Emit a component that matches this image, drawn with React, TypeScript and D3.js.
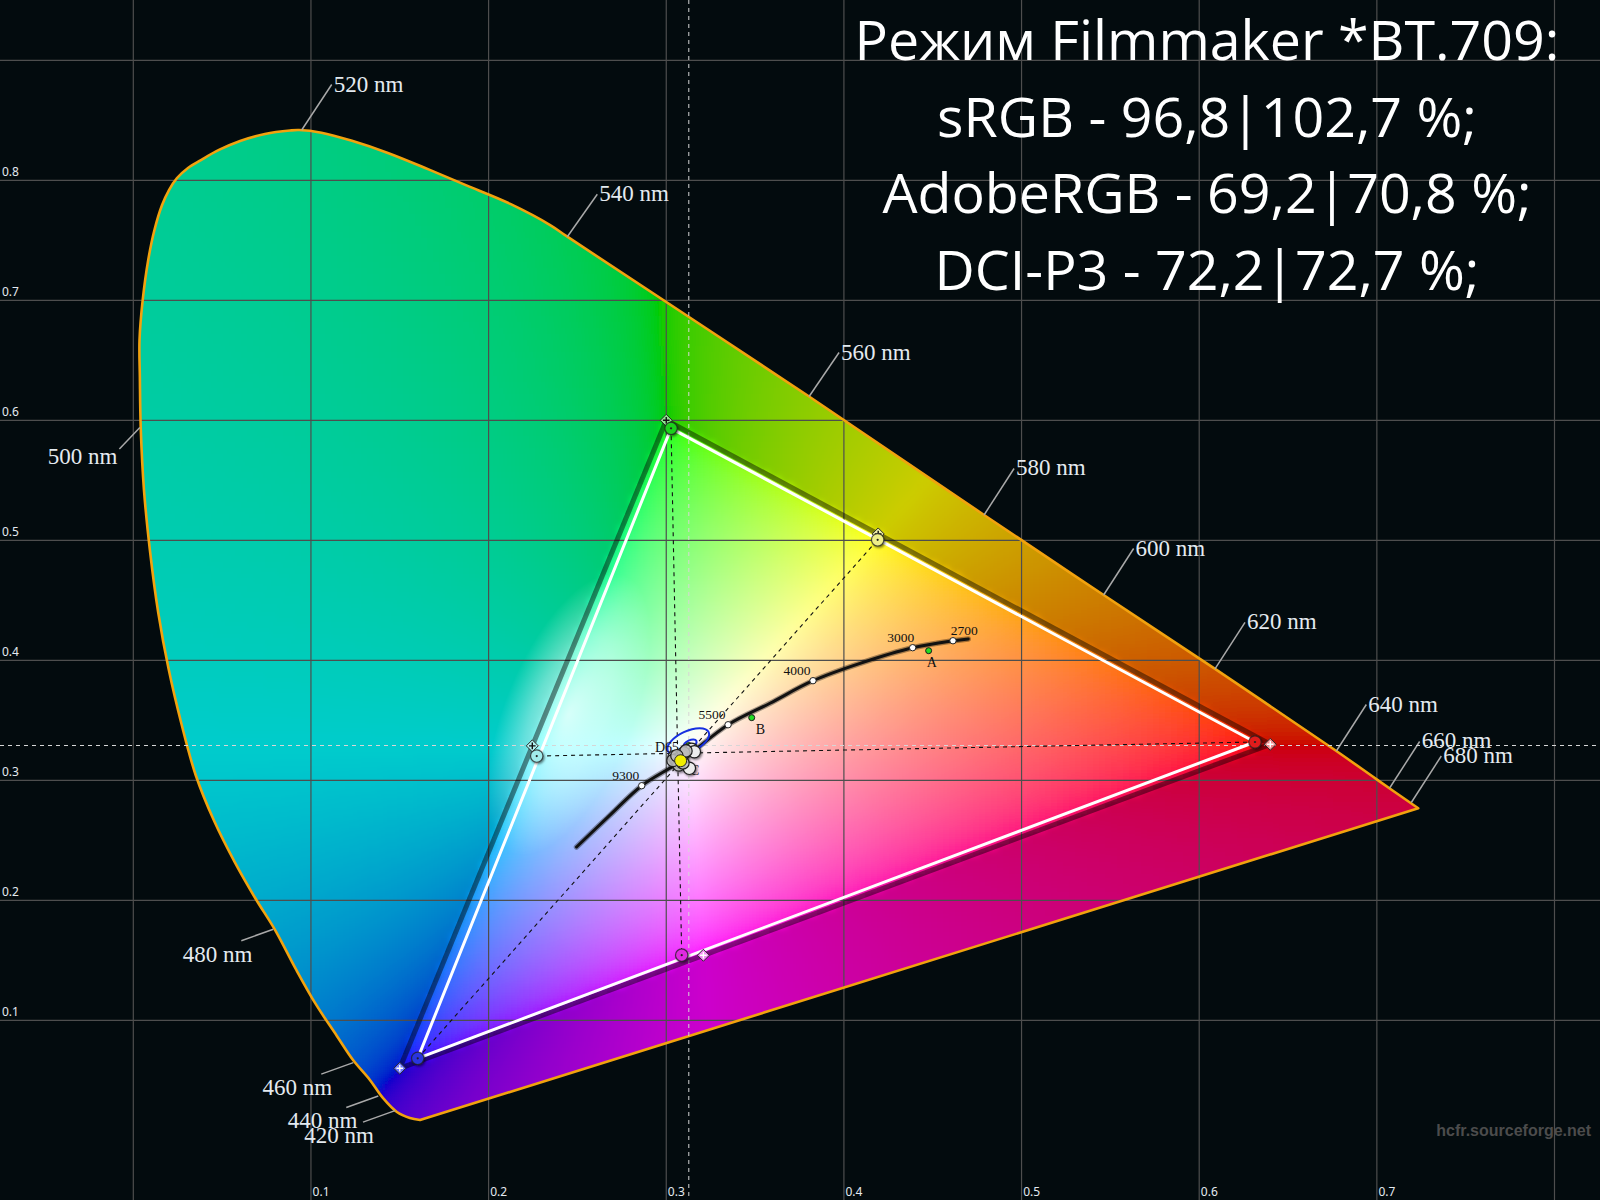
import React, { useMemo } from "react";
import * as d3 from "d3";

const WIDTH = 1600;
const HEIGHT = 1200;

// Title block
const titleLines = [
  "Режим Filmmaker *BT.709:",
  "sRGB - 96,8|102,7 %;",
  "AdobeRGB - 69,2|70,8 %;",
  "DCI-P3 - 72,2|72,7 %;",
];

// Axis ticks and grid
const xTickValues = [0.1, 0.2, 0.3, 0.4, 0.5, 0.6, 0.7];
const yTickValues = [0.1, 0.2, 0.3, 0.4, 0.5, 0.6, 0.7, 0.8];
const xGridValues = [0, 0.1, 0.2, 0.3, 0.4, 0.5, 0.6, 0.7, 0.8];
const yGridValues = [0.1, 0.2, 0.3, 0.4, 0.5, 0.6, 0.7, 0.8, 0.9];

// Spectral locus outline (x, y), from the violet end round to the red end
const locus: [number, number][] = [
  [0.1614, 0.0169], [0.1557, 0.0186], [0.1484, 0.0236], [0.1405, 0.0353],
  [0.1332, 0.0503], [0.1237, 0.0669], [0.1145, 0.0872], [0.103, 0.1128],
  [0.0916, 0.1424], [0.08, 0.1748], [0.0686, 0.2019], [0.0571, 0.2318],
  [0.0456, 0.2658], [0.0352, 0.304], [0.0272, 0.3465], [0.0198, 0.3933],
  [0.014, 0.4401], [0.0094, 0.4911], [0.006, 0.5421], [0.0042, 0.5931],
  [0.0037, 0.6356], [0.0035, 0.6669], [0.0053, 0.7003], [0.0084, 0.7336],
  [0.0119, 0.7586], [0.0162, 0.7794], [0.0201, 0.7919], [0.0246, 0.8019],
  [0.0308, 0.8103], [0.0381, 0.8169], [0.0482, 0.8253], [0.0601, 0.8328],
  [0.0741, 0.8386], [0.0882, 0.8415], [0.0933, 0.8419], [0.1059, 0.8397],
  [0.1231, 0.8329], [0.1433, 0.8228], [0.1662, 0.8091], [0.1892, 0.7947],
  [0.2122, 0.7803], [0.2351, 0.7623], [0.2443, 0.753], [0.3804, 0.6198],
  [0.4789, 0.5211], [0.5462, 0.4544], [0.6089, 0.3928], [0.6772, 0.3244],
  [0.6999, 0.3008], [0.7233, 0.2767],
];

// Wavelength marks on the locus
const wavelengthMarks: { nm: number; x: number; y: number }[] = [
  { nm: 420, x: 0.1473, y: 0.0247 },
  { nm: 440, x: 0.1379, y: 0.0369 },
  { nm: 460, x: 0.1238, y: 0.0647 },
  { nm: 480, x: 0.0788, y: 0.1759 },
  { nm: 500, x: 0.0037, y: 0.594 },
  { nm: 520, x: 0.0948, y: 0.8419 },
  { nm: 540, x: 0.2443, y: 0.753 },
  { nm: 560, x: 0.3804, y: 0.6198 },
  { nm: 580, x: 0.4789, y: 0.5211 },
  { nm: 600, x: 0.5462, y: 0.4544 },
  { nm: 620, x: 0.6089, y: 0.3928 },
  { nm: 640, x: 0.6772, y: 0.3244 },
  { nm: 660, x: 0.7072, y: 0.2936 },
  { nm: 680, x: 0.7194, y: 0.2815 },
];

// Reference gamut (BT.709 / sRGB)
const refPrimaries: { key: string; x: number; y: number }[] = [
  { key: "R", x: 0.64, y: 0.33 },
  { key: "G", x: 0.3, y: 0.6 },
  { key: "B", x: 0.15, y: 0.06 },
];
const refSecondaries: { key: string; x: number; y: number }[] = [
  { key: "C", x: 0.2246, y: 0.3287 },
  { key: "Y", x: 0.4193, y: 0.5053 },
  { key: "M", x: 0.3209, y: 0.1542 },
];

// Measured gamut
const measuredPrimaries: { key: string; x: number; y: number }[] = [
  { key: "R", x: 0.6314, y: 0.3319 },
  { key: "G", x: 0.3027, y: 0.5933 },
  { key: "B", x: 0.1601, y: 0.0683 },
];
const measuredSecondaries: { key: string; x: number; y: number }[] = [
  { key: "C", x: 0.2271, y: 0.3202 },
  { key: "Y", x: 0.419, y: 0.5004 },
  { key: "M", x: 0.3087, y: 0.1543 },
];

// Reference white and illuminants
const whiteRef = { x: 0.3127, y: 0.329 };
const illuminants: { name: string; x: number; y: number }[] = [
  { name: "A", x: 0.4477, y: 0.408 },
  { name: "B", x: 0.3481, y: 0.3522 },
  { name: "D65", x: 0.3127, y: 0.329 },
];
const illuminantC = { name: "C", x: 0.3101, y: 0.3162 };

// Black-body curve and its temperature marks
const planckCurve: [number, number][] = [
  [0.2495, 0.2444], [0.268, 0.2705], [0.2862, 0.2955], [0.3077, 0.3155],
  [0.3348, 0.3463], [0.3584, 0.3642], [0.3826, 0.383], [0.4091, 0.3975],
  [0.4387, 0.4105], [0.4614, 0.4163], [0.47, 0.4178],
];
const temperatureMarks: { k: string; x: number; y: number }[] = [
  { k: "9300", x: 0.2862, y: 0.2955 },
  { k: "5500", x: 0.3348, y: 0.3463 },
  { k: "4000", x: 0.3826, y: 0.383 },
  { k: "3000", x: 0.4387, y: 0.4105 },
  { k: "2700", x: 0.4614, y: 0.4163 },
];

// Grayscale readings and the averaged white
const grayReadings: [number, number][] = [
  [0.3143, 0.3258], [0.3158, 0.3238], [0.313, 0.31],
  [0.3044, 0.3195], [0.3055, 0.317], [0.3066, 0.3153], [0.3077, 0.3186],
  [0.3088, 0.321], [0.3099, 0.3228], [0.3111, 0.3245], [0.3071, 0.3128],
  [0.3094, 0.3145], [0.3038, 0.3165], [0.306, 0.3205],
];
const measuredWhite = { x: 0.3081, y: 0.3163 };

// Tolerance ellipses round the white target
const toleranceEllipses: { x: number; y: number; rx: number; ry: number }[] = [
  { x: 0.3124, y: 0.3322, rx: 22.5, ry: 10.5 },
  { x: 0.3134, y: 0.3303, rx: 7, ry: 3.6 },
];

// ---- layout ----
const X0 = 133.3;
const XU = 1776.5;
const Y0 = 1140.3;
const YU = 1200;

const xScale = d3.scaleLinear().domain([0, 0.8]).range([X0, X0 + 0.8 * XU]);
const yScale = d3.scaleLinear().domain([0, 0.9]).range([Y0, Y0 - 0.9 * YU]);

// vertical text offset of the upper wavelength labels
const labelRise: Record<number, number> = { 520: 38.5, 540: 35.5, 560: 37 };

const PRIMARY_FILL: Record<string, string> = {
  R: "#e01a1a", G: "#1ad01a", B: "#2a36e0", C: "#a2ecec", Y: "#eeee88", M: "#e02ae0",
};
const DIAMOND_FILL: Record<string, string> = {
  R: "#f28c8c", G: "#90e690", B: "#7078ff", C: "#b0f2f2", Y: "#f2f2a8", M: "#f28cf2",
};
const DIAMOND_CROSS: Record<string, string> = {
  R: "#ffffff", G: "#111111", B: "#ffffff", C: "#111111", Y: "#111111", M: "#ffffff",
};

// ---- chromaticity colour field ----
function xyToLinear(x: number, y: number): number[] {
  const X = x / y;
  const Z = (1 - x - y) / y;
  return [
    3.2406 * X - 1.5372 - 0.4986 * Z,
    -0.9689 * X + 1.8758 + 0.0415 * Z,
    0.0557 * X - 0.204 + 1.057 * Z,
  ];
}

function encode(rgb: number[], gain: number): string {
  const c = rgb.map((v) => Math.max(0, v));
  const m = Math.max(c[0], c[1], c[2]) || 1;
  const out = c.map((v) => {
    const l = v / m;
    const g = l <= 0.0031308 ? 12.92 * l : 1.055 * Math.pow(l, 1 / 2.4) - 0.055;
    return Math.round(255 * Math.min(1, g) * gain);
  });
  return `rgb(${out[0]},${out[1]},${out[2]})`;
}

function fieldColor(x: number, y: number): string {
  const dx = x - whiteRef.x;
  const dy = y - whiteRef.y;
  if (Math.hypot(dx, dy) < 1e-6) return "rgb(255,255,255)";
  let kBest = Infinity;
  for (let i = 0; i < 3; i++) {
    const A = refPrimaries[i];
    const Bv = refPrimaries[(i + 1) % 3];
    const ex = Bv.x - A.x;
    const ey = Bv.y - A.y;
    const ax = A.x - whiteRef.x;
    const ay = A.y - whiteRef.y;
    const det = -dx * ey + ex * dy;
    if (Math.abs(det) < 1e-12) continue;
    const k = (-ax * ey + ex * ay) / det;
    const s = (dx * ay - dy * ax) / det;
    if (k > 0 && s >= -1e-9 && s <= 1 + 1e-9 && k < kBest) kBest = k;
  }
  if (kBest >= 1) return encode(xyToLinear(x, y), 1);
  const bx = whiteRef.x + kBest * dx;
  const by = whiteRef.y + kBest * dy;
  return encode(xyToLinear(bx, by), 0.8);
}

const CELL = 6;

export default function App() {
  const locusPx = useMemo(
    () => locus.map(([x, y]) => [xScale(x), yScale(y)] as [number, number]),
    []
  );

  const cells = useMemo(() => {
    const xs = locusPx.map((p) => p[0]);
    const ys = locusPx.map((p) => p[1]);
    const minX = Math.floor(Math.min(...xs)) - CELL * 2;
    const maxX = Math.ceil(Math.max(...xs)) + CELL * 2;
    const minY = Math.floor(Math.min(...ys)) - CELL * 2;
    const maxY = Math.ceil(Math.max(...ys)) + CELL * 2;
    const m = 9;
    const out: { x: number; y: number; fill: string }[] = [];
    for (let py = minY; py < maxY; py += CELL) {
      for (let px = minX; px < maxX; px += CELL) {
        const cx = px + CELL / 2;
        const cy = py + CELL / 2;
        const near =
          d3.polygonContains(locusPx, [cx, cy]) ||
          d3.polygonContains(locusPx, [cx - m, cy]) ||
          d3.polygonContains(locusPx, [cx + m, cy]) ||
          d3.polygonContains(locusPx, [cx, cy - m]) ||
          d3.polygonContains(locusPx, [cx, cy + m]) ||
          d3.polygonContains(locusPx, [cx - m, cy - m]) ||
          d3.polygonContains(locusPx, [cx + m, cy + m]) ||
          d3.polygonContains(locusPx, [cx - m, cy + m]) ||
          d3.polygonContains(locusPx, [cx + m, cy - m]);
        if (!near) continue;
        const yv = Math.max(0.004, yScale.invert(cy));
        out.push({ x: px, y: py, fill: fieldColor(xScale.invert(cx), yv) });
      }
    }
    return out;
  }, [locusPx]);

  const locusPath =
    (d3
      .line<[number, number]>()
      .x((d) => xScale(d[0]))
      .y((d) => yScale(d[1]))
      .curve(d3.curveCatmullRom.alpha(0.5))(locus) || "") + "Z";

  const triPath = (pts: { x: number; y: number }[]) =>
    (d3
      .line<{ x: number; y: number }>()
      .x((d) => xScale(d.x))
      .y((d) => yScale(d.y))(pts) || "") + "Z";

  const planckPath =
    d3
      .line<[number, number]>()
      .x((d) => xScale(d[0]))
      .y((d) => yScale(d[1]))
      .curve(d3.curveCatmullRom.alpha(0.5))(planckCurve) || "";

  const mp = (k: string) => measuredPrimaries.find((p) => p.key === k)!;
  const ms = (k: string) => measuredSecondaries.find((p) => p.key === k)!;
  const crossLines = [
    [mp("G"), ms("M")],
    [mp("R"), ms("C")],
    [mp("B"), ms("Y")],
  ];

  const upperRight = (nm: number) => nm >= 520;

  const serif = "'Liberation Serif', 'Times New Roman', serif";
  const sans = "'Noto Sans', 'Open Sans', sans-serif";

  return (
    <svg
      width={WIDTH}
      height={HEIGHT}
      viewBox={`0 0 ${WIDTH} ${HEIGHT}`}
      style={{ position: "absolute", left: 0, top: 0, display: "block" }}
    >
      <defs>
        <clipPath id="locusClip">
          <path d={locusPath} />
        </clipPath>
        <filter id="soft" filterUnits="userSpaceOnUse" x="0" y="0" width={WIDTH} height={HEIGHT}>
          <feGaussianBlur stdDeviation="3" />
        </filter>
        <filter id="shadow" x="-80%" y="-80%" width="260%" height="260%">
          <feDropShadow dx="1.2" dy="1.4" stdDeviation="1.3" floodColor="#000" floodOpacity="0.55" />
        </filter>
        <radialGradient id="haze">
          <stop offset="0%" stopColor="#ffffff" stopOpacity="0.75" />
          <stop offset="55%" stopColor="#ffffff" stopOpacity="0.4" />
          <stop offset="100%" stopColor="#ffffff" stopOpacity="0" />
        </radialGradient>
      </defs>

      <rect x={0} y={0} width={WIDTH} height={HEIGHT} fill="#030b0e" />

      {/* colour field inside the spectral locus */}
      <g clipPath="url(#locusClip)">
        <g filter="url(#soft)">
          {cells.map((c, i) => (
            <rect key={i} x={c.x} y={c.y} width={CELL + 0.6} height={CELL + 0.6} fill={c.fill} />
          ))}
        </g>
        <ellipse
          cx={xScale(0.245)}
          cy={yScale(0.355)}
          rx={64}
          ry={150}
          fill="url(#haze)"
          transform={`rotate(22 ${xScale(0.245)} ${yScale(0.355)})`}
        />
      </g>

      {/* grid */}
      <g stroke="#4e4e4e" strokeWidth={1.2}>
        {xGridValues.map((v) => (
          <line key={`gx${v}`} x1={xScale(v)} x2={xScale(v)} y1={0} y2={HEIGHT} />
        ))}
        {yGridValues.map((v) => (
          <line key={`gy${v}`} x1={0} x2={WIDTH} y1={yScale(v)} y2={yScale(v)} />
        ))}
      </g>

      {/* locus outline */}
      <path d={locusPath} fill="none" stroke="#f2a20e" strokeWidth={2.6} strokeLinejoin="round" />

      {/* wavelength labels */}
      <g fontFamily={serif} fontSize={23} fill="#e4eaf0">
        {wavelengthMarks.map((w) => {
          const ax = xScale(w.x);
          const ay = yScale(w.y);
          let lx: number, ly: number, tx: number, ty: number, anchor: "start" | "end";
          if (upperRight(w.nm)) {
            const rise = labelRise[w.nm] ?? 39.5;
            lx = ax + 30; ly = ay - rise - 7; tx = ax + 32; ty = ay - rise; anchor = "start";
          } else if (w.nm === 500) {
            lx = ax - 20.5; ly = ay + 21.5; tx = ax - 22.5; ty = ay + 36; anchor = "end";
          } else {
            lx = ax - 32; ly = ay + 11.5; tx = ax - 21; ty = ay + 32.3; anchor = "end";
          }
          return (
            <g key={w.nm}>
              <line x1={ax} y1={ay} x2={lx} y2={ly} stroke="#a9a9a9" strokeWidth={1.5} />
              <text x={tx} y={ty} textAnchor={anchor}>{`${w.nm} nm`}</text>
            </g>
          );
        })}
      </g>

      {/* target white crosshair */}
      <g stroke="#d6d6d6" strokeWidth={1} strokeDasharray="4,4">
        <line x1={xScale(whiteRef.x)} x2={xScale(whiteRef.x)} y1={0} y2={HEIGHT} />
        <line x1={0} x2={WIDTH} y1={yScale(whiteRef.y)} y2={yScale(whiteRef.y)} />
      </g>

      {/* reference gamut */}
      <path
        d={triPath(refPrimaries)}
        fill="none"
        stroke="rgba(0,0,0,0.45)"
        strokeWidth={5}
        strokeLinejoin="round"
      />

      {/* measured gamut */}
      <path d={triPath(measuredPrimaries)} fill="none" stroke="#ffffff" strokeWidth={3} strokeLinejoin="round" />

      {/* primary to complementary secondary */}
      <g stroke="#111" strokeWidth={1.1} strokeDasharray="4,4">
        {crossLines.map(([a, b], i) => (
          <line key={i} x1={xScale(a.x)} y1={yScale(a.y)} x2={xScale(b.x)} y2={yScale(b.y)} />
        ))}
      </g>

      {/* black-body curve */}
      <path d={planckPath} fill="none" stroke="#000" strokeOpacity={0.35} strokeWidth={5.5} strokeLinecap="round" />
      <path d={planckPath} fill="none" stroke="#111" strokeWidth={3} strokeLinecap="round" />
      <g>
        {temperatureMarks.map((t, i) => {
          const px = xScale(t.x);
          const py = yScale(t.y);
          const first = i < 3;
          const last = i === temperatureMarks.length - 1;
          return (
            <g key={t.k}>
              <circle cx={px} cy={py} r={3.2} fill="#ffffff" stroke="#222" strokeWidth={1} />
              <text
                x={last ? px - 2.3 : first ? px - 2.5 : px + 1.6}
                y={py - 5.7}
                textAnchor={last ? "start" : "end"}
                fontFamily={serif}
                fontSize={13.5}
                fill="#111"
              >
                {t.k}
              </text>
            </g>
          );
        })}
      </g>

      {/* tolerance ellipses */}
      <g fill="none" stroke="#1630e0" strokeWidth={2}>
        {toleranceEllipses.map((e, i) => (
          <ellipse
            key={i}
            cx={xScale(e.x)}
            cy={yScale(e.y)}
            rx={e.rx}
            ry={e.ry}
            transform={`rotate(-25 ${xScale(e.x)} ${yScale(e.y)})`}
          />
        ))}
      </g>

      {/* illuminants */}
      {illuminants.map((il) => {
        const px = xScale(il.x);
        const py = yScale(il.y);
        const isD65 = il.name === "D65";
        return (
          <g key={il.name}>
            <circle cx={px} cy={py} r={3} fill="#22dd22" stroke="#1a1a1a" strokeWidth={1} />
            <text
              x={isD65 ? px - 33.8 : il.name === "A" ? px - 2 : px + 4}
              y={isD65 ? py + 6.2 : py + 16}
              fontFamily={serif}
              fontSize={14}
              fill="#111"
            >
              {il.name}
            </text>
          </g>
        );
      })}
      <text
        x={xScale(illuminantC.x) + 5.8}
        y={yScale(illuminantC.y) + 14.6}
        fontFamily={serif}
        fontSize={14}
        fill="#111"
      >
        {illuminantC.name}
      </text>

      {/* grayscale readings */}
      <g filter="url(#shadow)">
        {grayReadings.map(([x, y], i) => (
          <circle
            key={i}
            cx={xScale(x)}
            cy={yScale(y)}
            r={6.2}
            fill={i < 3 ? "#ececec" : "#bdbdbd"}
            fillOpacity={i < 3 ? 1 : 0.85}
            stroke="#1e1e1e"
            strokeWidth={1.2}
          />
        ))}
        <circle
          cx={xScale(measuredWhite.x)}
          cy={yScale(measuredWhite.y)}
          r={6}
          fill="#f2ee00"
          stroke="#2a2a2a"
          strokeWidth={1}
        />
      </g>

      {/* reference primaries / secondaries */}
      {[...refPrimaries, ...refSecondaries].map((p) => {
        const px = xScale(p.x);
        const py = yScale(p.y);
        return (
          <g key={`ref${p.key}`} transform={`translate(${px},${py})`}>
            <path d="M0,-6L6,0L0,6L-6,0Z" fill={DIAMOND_FILL[p.key]} stroke="#2a2a2a" strokeWidth={1} />
            <path d="M-3.3,0H3.3M0,-3.3V3.3" stroke={DIAMOND_CROSS[p.key]} strokeWidth={1.4} />
          </g>
        );
      })}

      {/* measured primaries / secondaries */}
      <g filter="url(#shadow)">
        {[...measuredPrimaries, ...measuredSecondaries].map((p) => {
          const px = xScale(p.x);
          const py = yScale(p.y);
          return (
            <g key={`m${p.key}`}>
              <circle cx={px} cy={py} r={6.2} fill={PRIMARY_FILL[p.key]} stroke="#222" strokeOpacity={0.75} strokeWidth={1.2} />
              <circle cx={px} cy={py} r={1.1} fill="#222" />
            </g>
          );
        })}
      </g>

      {/* tick labels */}
      <g fontFamily={sans} fontSize={12} fill="#e4eaf0">
        {yTickValues.map((v) => (
          <text key={`ty${v}`} x={2} y={yScale(v) - 4.3}>
            {v.toFixed(1)}
          </text>
        ))}
        {xTickValues.map((v) => (
          <text key={`tx${v}`} x={xScale(v) + 1.6} y={1196}>
            {v.toFixed(1)}
          </text>
        ))}
      </g>

      {/* title */}
      <g fontFamily="'Open Sans', 'Noto Sans', sans-serif" fontSize={55.5} fill="#ffffff" textAnchor="middle">
        {titleLines.map((t, i) => (
          <text key={i} x={1207} y={60 + i * 76.7}>
            {t}
          </text>
        ))}
      </g>

      {/* watermark */}
      <text
        x={1591}
        y={1136}
        textAnchor="end"
        fontFamily="'Liberation Sans', Arial, sans-serif"
        fontWeight="bold"
        fontSize={16}
        fill="#4c4c4c"
      >
        hcfr.sourceforge.net
      </text>
    </svg>
  );
}
